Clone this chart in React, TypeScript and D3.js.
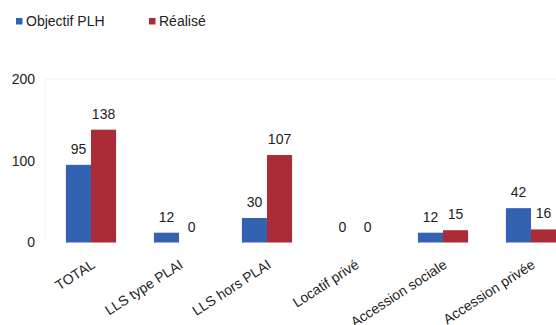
import React from "react";
import * as d3 from "d3";

const categories = ["TOTAL", "LLS type PLAI", "LLS hors PLAI", "Locatif privé", "Accession sociale", "Accession privée"];
const objectif = [95, 12, 30, 0, 12, 42];
const realise = [138, 0, 107, 0, 15, 16];
const seriesNames = ["Objectif PLH", "Réalisé"];
const yTicks = [0, 100, 200];

const W = 556;
const H = 325;
const BLUE = "#3262b0";
const RED = "#ab2b37";
const FONT = "Arial, 'Liberation Sans', sans-serif";

export default function App() {
  const y = d3.scaleLinear().domain([0, 200]).range([242.5, 79]);
  const x = d3.scaleBand<string>().domain(categories).range([47, 575]).paddingInner(0.43).paddingOuter(0.215);
  const inner = d3.scaleBand<number>().domain([0, 1]).range([0, x.bandwidth()]);
  const series = [objectif, realise];
  const colors = [BLUE, RED];

  return (
    <svg width={W} height={H} style={{ position: "absolute", left: 0, top: 0, background: "#fff" }} fontFamily={FONT}>
      {seriesNames.map((n, i) => {
        const lx = i === 0 ? 16 : 149;
        return (
          <g key={n}>
            <rect x={lx} y={18} width={6.5} height={6.5} fill={colors[i]} />
            <text x={lx + 10} y={26} fontSize={14} fill="#222">{n}</text>
          </g>
        );
      })}
      <line x1={45} x2={556} y1={y(200)} y2={y(200)} stroke="#f2f2f2" strokeWidth={1} />
      <line x1={45} x2={45} y1={y(200)} y2={y(0)} stroke="#f4f4f4" strokeWidth={1} />
      {yTicks.map((t) => (
        <text key={t} x={35} y={y(t)} dy="0.35em" textAnchor="end" fontSize={14} fill="#222">{t}</text>
      ))}
      {categories.map((c, ci) => (
        <g key={c} transform={`translate(${x(c)},0)`}>
          {series.map((s, si) => {
            const v = s[ci];
            const bx = inner(si)!;
            const bw = inner.bandwidth();
            return (
              <g key={si}>
                {v > 0 && (
                  <rect x={bx} y={y(v)} width={bw} height={y(0) - y(v)} fill={colors[si]} />
                )}
                <text x={bx + bw / 2} y={y(v) - 11} textAnchor="middle" fontSize={14} fill="#222">{v}</text>
              </g>
            );
          })}
        </g>
      ))}
      {categories.map((c) => {
        const cx = x(c)! + x.bandwidth() / 2 + 5;
        const cy = 267;
        return (
          <text key={c} x={cx} y={cy} textAnchor="end" fontSize={14} fill="#222" transform={`rotate(-33 ${cx} ${cy})`}>{c}</text>
        );
      })}
    </svg>
  );
}
